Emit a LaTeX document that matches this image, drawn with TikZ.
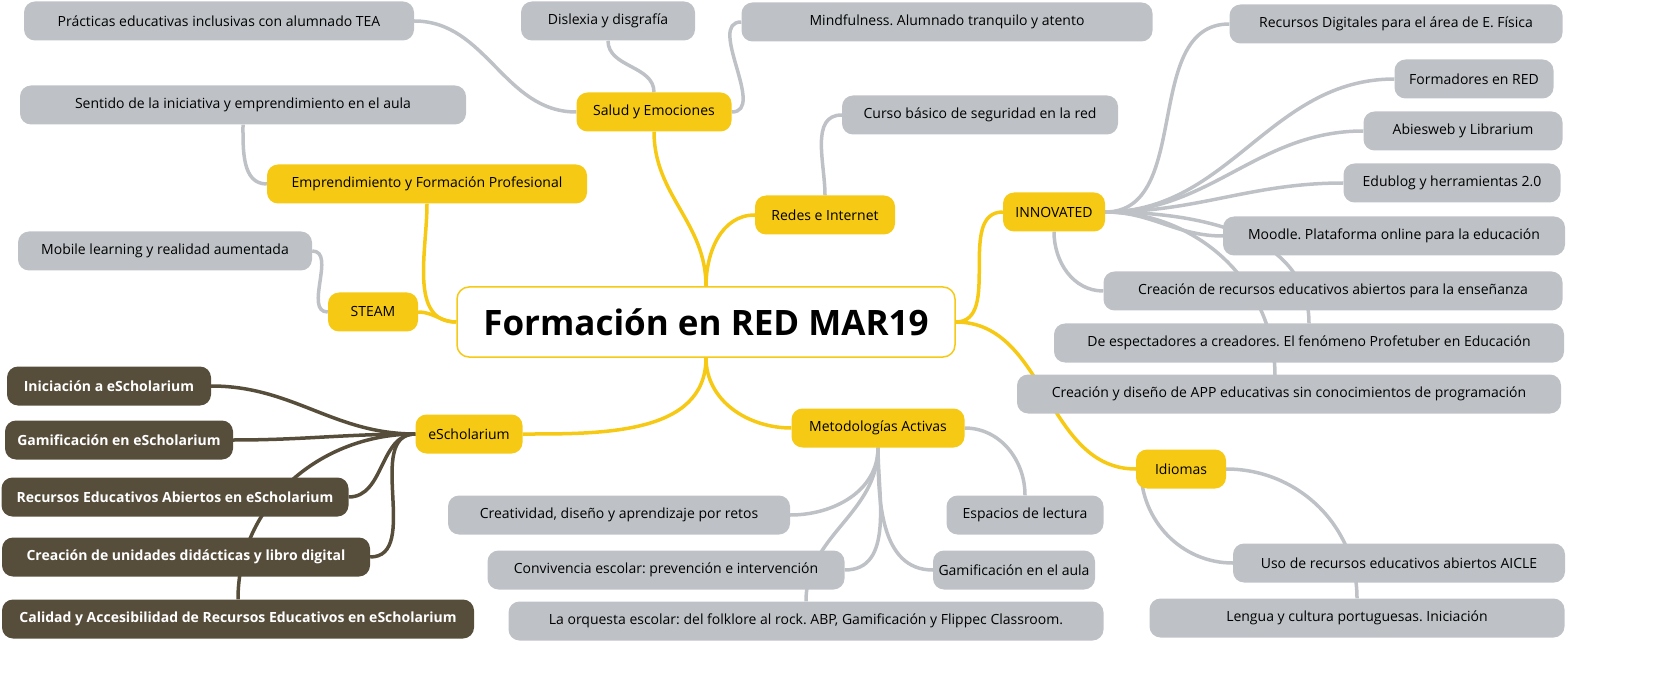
\documentclass[tikz,border=0pt]{standalone}
\usepackage{fontspec}
\setmainfont{Open Sans}
\frenchspacing
\usetikzlibrary{backgrounds}
\definecolor{yel}{HTML}{F6C915}
\definecolor{gry}{HTML}{BEC2C6}
\definecolor{brn}{HTML}{574D3B}
\begin{document}
\begin{tikzpicture}[x=1pt,y=-1pt,
  base/.style={rounded corners=11pt,minimum height=39pt,inner xsep=4pt,font=\fontsize{14}{16}\selectfont},
  y1/.style={base,fill=yel,text=black},
  g1/.style={base,fill=gry,text=black},
  b1/.style={base,fill=brn,text=white,font=\fontsize{14}{16}\selectfont\bfseries},
  w/.style={minimum width=#1pt},
  yl/.style={draw=yel,line width=3.5pt},
  gl/.style={draw=gry,line width=3.5pt},
  bl/.style={draw=brn,line width=3.5pt}]
\useasboundingbox (0,0) rectangle (1672,684);
\node[draw=yel,fill=white,line width=1.5pt,rounded corners=12pt,minimum width=498pt,minimum height=70pt,font=\fontsize{35}{40}\selectfont\bfseries] (c) at (706,322) {Formación en RED MAR19};
\node[y1,w=155] (sal) at (654,112) {Salud y Emociones};
\node[y1,w=320] (emp) at (427,184) {Emprendimiento y Formación Profesional};
\node[y1,w=90] (ste) at (373,312) {STEAM};
\node[y1,w=140] (red) at (825,215) {Redes e Internet};
\node[y1,w=102] (inn) at (1054,212) {INNOVATED};
\node[y1,w=107] (esc) at (469,434) {eScholarium};
\node[y1,w=173] (met) at (878,428) {Metodologías Activas};
\node[y1,w=90] (idi) at (1181,469) {Idiomas};
\node[g1,w=390] (pra) at (219,21) {Prácticas educativas inclusivas con alumnado TEA};
\node[g1,w=174] (dis) at (608,21) {Dislexia y disgrafía};
\node[g1,w=411] (min) at (947,22) {Mindfulness. Alumnado tranquilo y atento};
\node[g1,w=446] (sen) at (243,105) {Sentido de la iniciativa y emprendimiento en el aula};
\node[g1,w=294] (mob) at (165,251) {Mobile learning y realidad aumentada};
\node[g1,w=276] (cur) at (980,115) {Curso básico de seguridad en la red};
\node[g1,w=333] (rdi) at (1396,24) {Recursos Digitales para el área de E. Física};
\node[g1,w=159] (for) at (1474,79) {Formadores en RED};
\node[g1,w=199] (abi) at (1463,131) {Abiesweb y Librarium};
\node[g1,w=217] (edu) at (1452,183) {Edublog y herramientas 2.0};
\node[g1,w=342] (moo) at (1394,236) {Moodle. Plataforma online para la educación};
\node[g1,w=459] (cre) at (1333,291) {Creación de recursos educativos abiertos para la enseñanza};
\node[g1,w=510] (esp) at (1309,343) {De espectadores a creadores. El fenómeno Profetuber en Educación};
\node[g1,w=544] (app) at (1289,394) {Creación y diseño de APP educativas sin conocimientos de programación};
\node[g1,w=332] (uso) at (1399,563) {Uso de recursos educativos abiertos AICLE};
\node[g1,w=415] (len) at (1357,618) {Lengua y cultura portuguesas. Iniciación};
\node[g1,w=157] (lec) at (1025,515) {Espacios de lectura};
\node[g1,w=342] (cvd) at (619,515) {Creatividad, diseño y aprendizaje por retos};
\node[g1,w=162] (gam) at (1014,570) {Gamificación en el aula};
\node[g1,w=357] (con) at (666,570) {Convivencia escolar: prevención e intervención};
\node[g1,w=595] (orq) at (806,621) {La orquesta escolar: del folklore al rock. ABP, Gamificación y Flippec Classroom.};
\node[b1,w=204] (e1) at (109,386) {Iniciación a eScholarium};
\node[b1,w=228] (e2) at (119,440) {Gamificación en eScholarium};
\node[b1,w=347] (e3) at (175,497) {Recursos Educativos Abiertos en eScholarium};
\node[b1,w=368] (e4) at (186,557) {Creación de unidades didácticas y libro digital};
\node[b1,w=472] (e5) at (238,619) {Calidad y Accesibilidad de Recursos Educativos en eScholarium};
\begin{scope}[on background layer]
\draw[yl] (c.north) to[out=90,in=-90] (sal.south);
\draw[yl] (c.north) to[out=90,in=180] (red.west);
\draw[yl] (c.west) to[out=180,in=-90] (emp.south);
\draw[yl] (c.west) to[out=180,in=0] (ste.east);
\draw[yl] (c.south) to[out=-90,in=0] (esc.east);
\draw[yl] (c.south) to[out=-90,in=180] (met.west);
\draw[yl] (c.east) to[out=0,in=180] (inn.west);
\draw[yl] (c.east) to[out=0,in=180] (idi.west);
\draw[gl] (sal.west) to[out=180,in=0] (pra.east);
\draw[gl] (sal.north) to[out=90,in=-90] (dis.south);
\draw[gl] (sal.east) to[out=0,in=180] (min.west);
\draw[gl] (emp.west) to[out=180,in=-90] (sen.south);
\draw[gl] (ste.west) to[out=180,in=0] (mob.east);
\draw[gl] (red.north) to[out=90,in=180] (cur.west);
\foreach \t in {rdi,for,abi,edu,moo}
  \draw[gl] (inn.east) to[out=0,in=180] (\t.west);
\draw[gl] (inn.south) to[out=-90,in=180] (cre.west);
\draw[gl] (inn.east) to[out=0,in=90] (esp.north);
\draw[gl] (inn.east) to[out=0,in=90] (1275,376);
\draw[gl] (idi.west) ++(5,0) to[out=-90,in=180] (uso.west);
\draw[gl] (idi.east) to[out=0,in=90] (len.north);
\draw[gl] (met.east) to[out=0,in=90] (lec.north);
\draw[gl] (met.south) to[out=-90,in=0] (cvd.east);
\draw[gl] (met.south) to[out=-90,in=180] (gam.west);
\draw[gl] (met.south) to[out=-90,in=0] (con.east);
\draw[gl] (met.south) to[out=-90,in=90] (orq.north);
\draw[bl] (esc.west) to[out=180,in=0] (e1.east);
\draw[bl] (esc.west) to[out=180,in=0] (e2.east);
\draw[bl] (esc.west) to[out=180,in=0] (e3.east);
\draw[bl] (esc.west) to[out=180,in=0] (e4.east);
\draw[bl] (esc.west) to[out=180,in=90] (e5.north);
\end{scope}
\end{tikzpicture}
\end{document}
